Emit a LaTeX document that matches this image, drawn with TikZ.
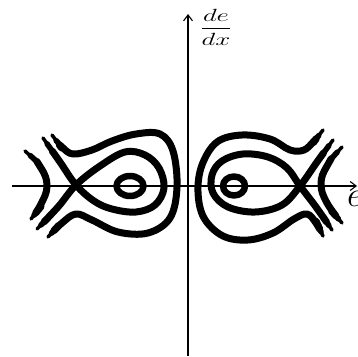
\documentclass[tikz,border=0pt]{standalone}
\usepackage{amsmath}
\usepackage{graphicx}
\usepackage{tikz}
\usetikzlibrary{arrows.meta, positioning, calc}

\begin{document}
\begin{tikzpicture}[
    x=1pt, y=-1pt,
    axis/.style={-{Straight Barb[length=6pt, width=9pt]}, line width=1.1pt},
    orbit/.style={line width=7pt, line cap=round, line join=round},
    thin tail/.style={line width=3.5pt, line cap=round, line join=round},
    mid tail/.style={line width=5.5pt, line cap=round, line join=round, shorten <=7pt, shorten >=7pt},
    thick tail/.style={line width=7pt, line cap=round, line join=round, shorten <=16pt, shorten >=16pt},
    label/.style={inner sep=0pt, font=\fontsize{20}{24}\selectfont}
]
\useasboundingbox (0,0) rectangle (358,356);

% axes
\coordinate (xstart) at (12,186);
\coordinate (xend) at (357,186);
\coordinate (ystart) at (188,356);
\coordinate (yend) at (188,14);
\draw[axis] (xstart) -- (xend);
\draw[axis] (ystart) -- (yend);
\node[label] (ylabel) at (216,27) {\scalebox{1.3}[0.85]{$\displaystyle\frac{de}{dx}$}};
\node[label, anchor=west] (xlabel) at (347,199) {\scalebox{1.7}{$e$}};

% left half
\foreach \s in {thin tail, mid tail, thick tail} {
  \draw[\s] plot[smooth, tension=0.6] coordinates {(52,135) (62,147) (73,154) (92,150) (112,141) (136,134) (160,134) (173,151) (177,187) (170,218) (148,233) (118,232) (92,220) (76,214) (62,223) (48,237)};
  \draw[\s] plot[smooth, tension=0.6] coordinates {(43,138) (60,162) (76,185) (94,201) (112,209) (136,212) (155,205) (164,188) (159,168) (145,155) (125,152) (100,166) (76,185) (58,207) (37,229)};
  \draw[\s] plot[smooth, tension=0.7] coordinates {(25,151) (41,168) (47,186) (41,204) (31,219)};
}
\draw[orbit, line width=6.5pt] (130,186) ellipse [x radius=13.5, y radius=10];

% right half
\foreach \s in {thin tail, mid tail, thick tail} {
  \draw[\s] plot[smooth, tension=0.6] coordinates {(323,130) (314,141) (304,150) (290,150) (270,139) (242,135) (217,142) (202,165) (198,192) (204,218) (223,236) (248,240) (273,233) (294,219) (307,214) (316,223) (323,236)};
  \draw[\s] plot[smooth, tension=0.6] coordinates {(333,140) (317,162) (300,186) (282,205) (255,212) (228,207) (213,193) (212,175) (222,161) (243,154) (268,157) (287,168) (300,186) (316,207) (332,230)};
  \draw[\s] plot[smooth, tension=0.7] coordinates {(342,147) (327,166) (321,184) (327,203) (342,223)};
}
\draw[orbit, line width=6.5pt] (234,186) ellipse [x radius=11, y radius=9.5];

\end{tikzpicture}
\end{document}
